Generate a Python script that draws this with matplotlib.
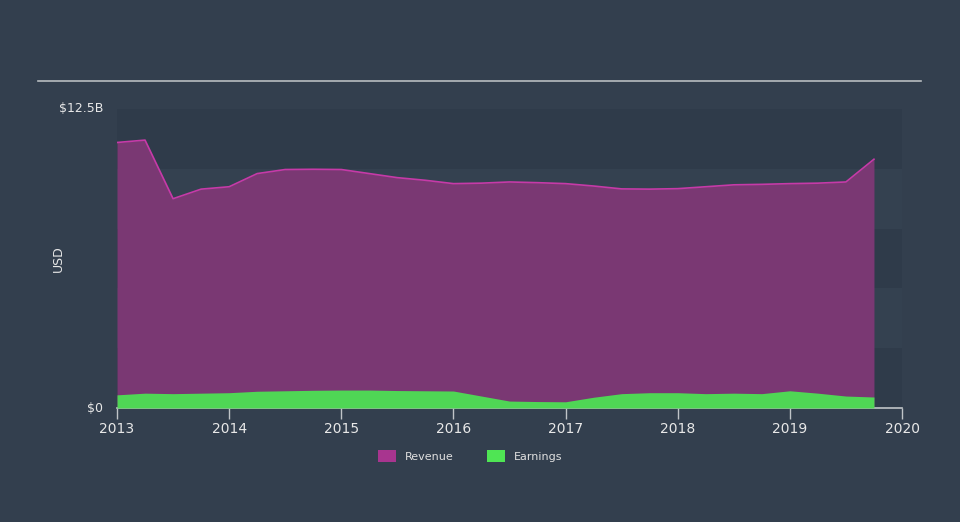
import matplotlib.pyplot as plt
from matplotlib.patches import Patch

# quarterly points (year fraction), values in billions USD
years = [2013.0, 2013.25, 2013.5, 2013.75, 2014.0, 2014.25, 2014.5, 2014.75,
         2015.0, 2015.25, 2015.5, 2015.75, 2016.0, 2016.25, 2016.5, 2016.75,
         2017.0, 2017.25, 2017.5, 2017.75, 2018.0, 2018.25, 2018.5, 2018.75,
         2019.0, 2019.25, 2019.5, 2019.75]
revenue = [11.1, 11.2, 8.75, 9.15, 9.25, 9.8, 9.97, 9.98,
           9.97, 9.8, 9.63, 9.52, 9.38, 9.4, 9.45, 9.42,
           9.38, 9.28, 9.16, 9.15, 9.17, 9.25, 9.33, 9.35,
           9.38, 9.4, 9.45, 10.4]
earnings = [0.55, 0.62, 0.6, 0.62, 0.64, 0.7, 0.72, 0.74,
            0.75, 0.75, 0.73, 0.72, 0.71, 0.5, 0.29, 0.27,
            0.26, 0.45, 0.6, 0.64, 0.64, 0.6, 0.62, 0.6,
            0.72, 0.62, 0.5, 0.46]
year_ticks = [2013, 2014, 2015, 2016, 2017, 2018, 2019, 2020]

BG = '#333f4e'
fig = plt.figure(figsize=(9.6, 5.22), dpi=100, facecolor=BG)

# top rule
fig.add_artist(plt.Line2D([38 / 960, 921 / 960], [1 - 81 / 522, 1 - 81 / 522],
                          color='#b8bcc0', linewidth=1.2))

ax = fig.add_axes([117 / 960, 1 - 408 / 522, 785 / 960, 299 / 522])
ax.set_facecolor(BG)
ax.set_xlim(2013, 2020)
ax.set_ylim(0, 12.5)

# alternating horizontal bands
for i, lo in enumerate([0, 2.5, 5, 7.5, 10]):
    ax.axhspan(lo, lo + 2.5, color='#2f3b4a' if i % 2 == 0 else '#344150',
               linewidth=0, zorder=0)

ax.fill_between(years, 0, revenue, color='#7a3873', linewidth=0, zorder=1)
ax.plot(years, revenue, color='#c63aa8', linewidth=1.2, zorder=2)
ax.fill_between(years, 0, earnings, color='#4fd655', linewidth=0, zorder=3)

for s in ['top', 'right', 'left']:
    ax.spines[s].set_visible(False)
ax.spines['bottom'].set_color('#c0c4c8')
ax.spines['bottom'].set_linewidth(1.2)

ax.set_xticks(year_ticks)
ax.set_xticklabels([str(y) for y in year_ticks])
ax.tick_params(axis='x', colors='#c0c4c8', labelcolor='#e8e8e8', length=8,
               width=1, labelsize=10, pad=2)
ax.set_yticks([0, 12.5])
ax.set_yticklabels(['$0', '$12.5B'])
ax.tick_params(axis='y', length=0, labelcolor='#e8e8e8', labelsize=9, pad=10)
for lbl in ax.get_yticklabels():
    lbl.set_verticalalignment('center')
ax.set_ylabel('USD', color='#e8e8e8', fontsize=9)
ax.yaxis.set_label_coords(-0.066, 0.5)

handles = [Patch(facecolor='#a8358f', label='Revenue'),
           Patch(facecolor='#4fe554', label='Earnings')]
fig.legend(handles=handles, loc='center', bbox_to_anchor=(0.49, 1 - 456 / 522),
           ncol=2, frameon=False, fontsize=8, labelcolor='#e0e0e0',
           handlelength=1.6, handleheight=1.2, columnspacing=3)

fig.savefig('out.png', dpi=100, facecolor=BG)
